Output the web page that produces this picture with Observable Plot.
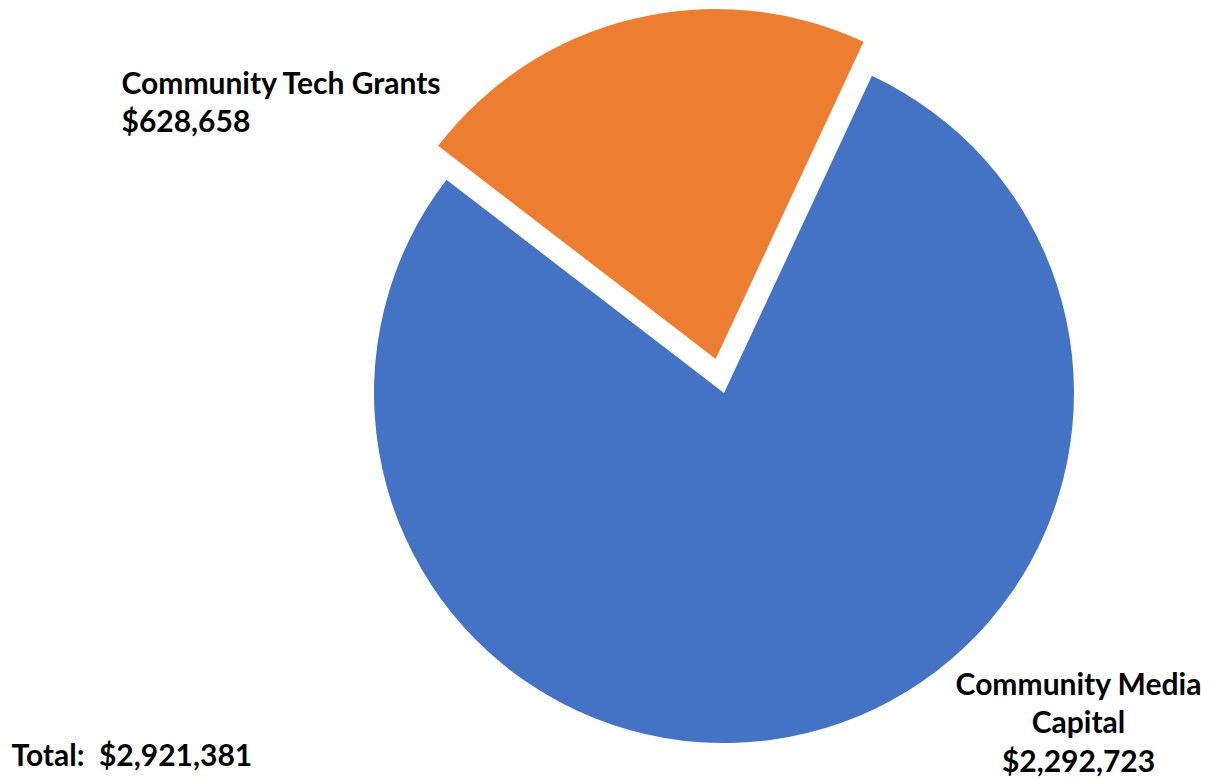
<!DOCTYPE html>
<html>
<head>
<meta charset="utf-8">
<script src="https://cdn.jsdelivr.net/npm/d3@7"></script>
<script src="https://cdn.jsdelivr.net/npm/@observablehq/plot@0.6"></script>
<style>
  html, body { margin: 0; padding: 0; background: #fff; }
  #chart svg { display: block; }
</style>
</head>
<body>
<div id="chart"></div>
<script>
// Funding split by program
const categories = ["Community Media Capital", "Community Tech Grants"];
const amounts = [2292723, 628658];
const explodedSlices = [false, true];
const sliceColors = ["#4472C4", "#ED7D31"];

// Layout
const W = 1209, H = 780;
const cx = 724, cy = 393, R = 350;   // pie centre and radius in pixels
const startDeg = 25;                  // angle of first slice, clockwise from 12 o'clock
const explodeFrac = 0.1;              // pull-out distance as a share of the radius
const fontSize = 30;
const lineGap = 38.5;

const fmt = d3.format("$,");
const slices = categories.map((name, i) => ({name, amount: amounts[i], exploded: explodedSlices[i]}));
const total = d3.sum(amounts);

// Pie drawn through the x/y scales (unit radius) and the colour scale
const pie = Plot.dot(slices, {
  x: () => 0,
  y: () => 0,
  fill: "name",
  render(index, scales, values) {
    const r = scales.x(1) - scales.x(0);
    const a0 = startDeg * Math.PI / 180;
    const arcs = d3.pie().sort(null).value(d => d.amount)
      .startAngle(a0).endAngle(a0 + 2 * Math.PI)(Array.from(index, i => slices[i]));
    const arc = d3.arc().innerRadius(0).outerRadius(r);
    const g = d3.create("svg:g");
    g.selectAll("path")
      .data(arcs)
      .join("path")
      .attr("d", arc)
      .attr("fill", (a, j) => values.fill[index[j]])
      .attr("transform", (a, j) => {
        const i = index[j];
        const mid = (a.startAngle + a.endAngle) / 2;
        const k = a.data.exploded ? explodeFrac * r : 0;
        return `translate(${values.x[i] + k * Math.sin(mid)},${values.y[i] - k * Math.cos(mid)})`;
      });
    return g.node();
  }
});

const textStyle = {
  fontSize,
  fontWeight: "bold",
  fill: "#000",
  lineAnchor: "top",
  lineHeight: lineGap / fontSize,
  frameAnchor: "top-left"
};
const ascent = 0.9 * fontSize;

const techLabel = Plot.text([slices[1]], {
  ...textStyle,
  text: d => `${d.name}\n${fmt(d.amount)}`,
  textAnchor: "start",
  dx: 121,
  dy: 93 - ascent
});

const mediaLabel = Plot.text([slices[0]], {
  ...textStyle,
  text: d => `${d.name.replace(" Capital", "\nCapital")}\n${fmt(d.amount)}`,
  textAnchor: "middle",
  dx: 1078,
  dy: 694 - ascent
});

const totalLabel = Plot.text([total], {
  ...textStyle,
  text: d => `Total:\u00a0 ${fmt(d)}`,
  textAnchor: "start",
  dx: 11,
  dy: 765 - ascent
});

const chart = Plot.plot({
  width: W,
  height: H,
  margin: 0,
  x: {domain: [-cx / R, (W - cx) / R], axis: null},
  y: {domain: [-(H - cy) / R, cy / R], axis: null},
  color: {domain: categories, range: sliceColors},
  style: {fontFamily: "Lato, 'Open Sans', sans-serif", background: "#fff"},
  marks: [pie, techLabel, mediaLabel, totalLabel]
});

document.getElementById("chart").append(chart);
</script>
</body>
</html>
